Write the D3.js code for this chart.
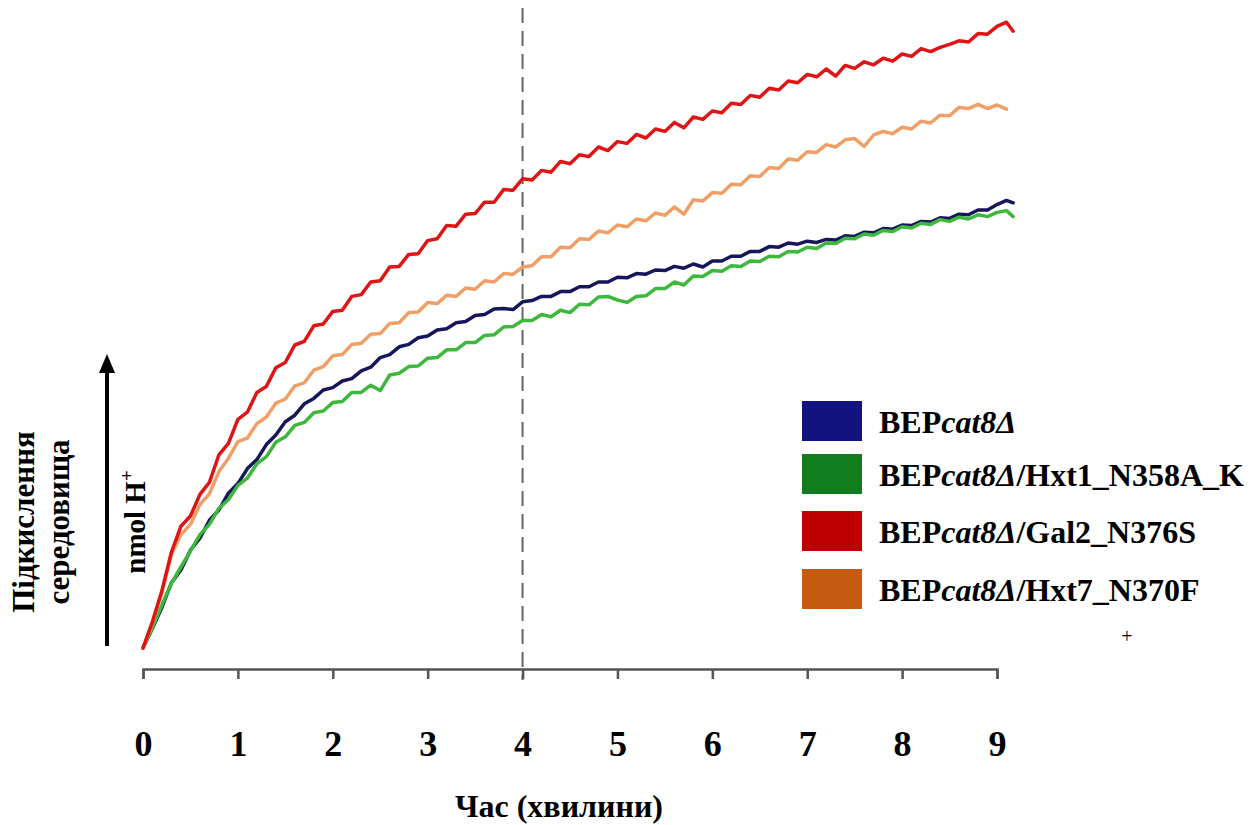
<!DOCTYPE html>
<html>
<head>
<meta charset="utf-8">
<script src="https://cdn.jsdelivr.net/npm/d3@7/dist/d3.min.js"></script>
<style>
  html, body { margin: 0; padding: 0; background: #fff; }
  svg { display: block; }
  text { font-family: "Liberation Serif", "Times New Roman", serif; font-weight: bold; fill: #000; }
</style>
</head>
<body>
<svg id="chart" width="1259" height="825"></svg>
<script>
// Time of measurement, minutes
const times = [0, 0.1, 0.2, 0.3, 0.4, 0.5, 0.6, 0.7, 0.8, 0.9,
  1.0, 1.1, 1.2, 1.3, 1.4, 1.5, 1.6, 1.7, 1.8, 1.9,
  2.0, 2.1, 2.2, 2.3, 2.4, 2.5, 2.6, 2.7, 2.8, 2.9,
  3.0, 3.1, 3.2, 3.3, 3.4, 3.5, 3.6, 3.7, 3.8, 3.9,
  4.0, 4.1, 4.2, 4.3, 4.4, 4.5, 4.6, 4.7, 4.8, 4.9,
  5.0, 5.1, 5.2, 5.3, 5.4, 5.5, 5.6, 5.7, 5.8, 5.9,
  6.0, 6.1, 6.2, 6.3, 6.4, 6.5, 6.6, 6.7, 6.8, 6.9,
  7.0, 7.1, 7.2, 7.3, 7.4, 7.5, 7.6, 7.7, 7.8, 7.9,
  8.0, 8.1, 8.2, 8.3, 8.4, 8.5, 8.6, 8.7, 8.8, 8.9,
  9.0, 9.1, 9.17];

// Medium acidification (nmol H+, relative units)
const bepCat8 = [2.0, 5.3, 8.8, 12.9, 15.0, 18.3, 20.3, 23.3, 25.0, 27.8,
  29.4, 31.9, 33.4, 35.9, 37.5, 39.7, 40.8, 42.7, 43.6, 45.0,
  45.4, 46.5, 46.9, 48.2, 48.8, 50.4, 50.9, 52.2, 52.6, 53.7,
  54.0, 55.0, 55.2, 56.2, 56.4, 57.4, 57.6, 58.5, 58.6, 58.4,
  59.7, 59.9, 60.6, 60.6, 61.4, 61.4, 62.2, 62.2, 63.0, 63.0,
  63.8, 63.7, 64.4, 64.3, 65.0, 64.9, 65.6, 65.3, 66.0, 65.5,
  66.5, 66.5, 67.3, 67.3, 68.1, 68.1, 68.9, 68.8, 69.5, 69.3,
  69.8, 69.6, 70.1, 70.0, 70.7, 70.6, 71.3, 71.2, 71.9, 71.8,
  72.5, 72.4, 73.1, 73.0, 73.7, 73.6, 74.3, 74.2, 75.0, 75.0,
  75.9, 76.6, 76.2];

const hxt1N358AK = [2.0, 5.4, 9.2, 12.8, 15.5, 18.2, 20.9, 22.6, 25.3, 26.7,
  29.1, 30.3, 32.7, 33.9, 36.3, 37.2, 39.1, 39.6, 41.2, 41.5,
  42.9, 43.1, 44.6, 44.6, 45.8, 44.9, 47.5, 47.8, 48.9, 49.0,
  50.3, 50.4, 51.7, 51.7, 52.9, 52.9, 54.1, 54.2, 55.5, 55.6,
  56.6, 56.6, 57.6, 57.2, 58.3, 57.9, 59.3, 59.2, 60.5, 60.6,
  60.0, 59.6, 60.6, 60.7, 61.9, 61.9, 63.0, 62.5, 64.0, 63.9,
  64.9, 64.8, 65.7, 65.6, 66.5, 66.4, 67.3, 67.2, 68.1, 68.0,
  68.8, 68.6, 69.5, 69.4, 70.3, 70.2, 71.0, 70.8, 71.6, 71.4,
  72.2, 72.0, 72.8, 72.6, 73.4, 73.1, 73.8, 73.5, 74.2, 73.9,
  74.6, 74.9, 73.9];

const gal2N376S = [2.0, 6.4, 11.6, 18.0, 22.3, 24.0, 27.6, 29.6, 34.2, 36.1,
  40.1, 41.3, 44.6, 45.6, 48.7, 49.6, 52.5, 53.1, 55.7, 56.0,
  58.1, 58.3, 60.6, 60.9, 63.0, 63.2, 65.5, 65.6, 67.6, 67.7,
  69.9, 70.2, 72.4, 72.3, 74.3, 74.4, 76.3, 76.3, 78.4, 78.3,
  80.2, 80.0, 81.6, 81.3, 83.1, 82.7, 84.2, 83.9, 85.5, 84.9,
  86.4, 86.1, 87.6, 87.0, 88.5, 88.1, 89.6, 88.7, 90.5, 90.1,
  91.5, 91.2, 92.8, 92.6, 94.1, 93.8, 95.3, 95.0, 96.5, 96.2,
  97.6, 97.2, 98.5, 97.3, 99.1, 98.6, 99.7, 99.2, 100.3, 99.8,
  101.0, 100.6, 101.9, 101.4, 102.1, 102.6, 103.2, 103.0, 104.4, 104.3,
  105.6, 106.3, 104.8];

const hxt7N370F = [2.0, 6.2, 11.3, 17.6, 20.9, 22.6, 25.9, 27.7, 31.4, 33.6,
  36.4, 37.0, 39.4, 40.5, 42.8, 43.5, 45.7, 46.2, 48.3, 48.9,
  50.7, 50.9, 52.6, 52.8, 54.3, 54.4, 56.1, 56.2, 57.9, 58.0,
  59.6, 59.4, 60.8, 60.6, 62.0, 61.8, 63.2, 63.0, 64.4, 64.3,
  65.5, 65.7, 67.2, 67.2, 68.8, 68.7, 70.2, 70.1, 71.5, 71.2,
  72.5, 72.2, 73.5, 73.2, 74.5, 74.1, 75.5, 74.3, 76.7, 76.5,
  77.9, 77.8, 79.3, 79.2, 80.7, 80.6, 82.1, 81.9, 83.5, 83.3,
  84.7, 84.6, 85.9, 85.5, 86.7, 86.9, 85.6, 87.5, 88.1, 87.7,
  88.8, 88.5, 89.8, 89.5, 90.8, 90.7, 92.1, 91.9, 92.6, 91.9,
  92.5, 91.8, null];

const seriesNames = ["BEP|cat8Δ|", "BEP|cat8Δ|/Hxt1_N358A_K", "BEP|cat8Δ|/Gal2_N376S", "BEP|cat8Δ|/Hxt7_N370F"];
const seriesValues = [bepCat8, hxt1N358AK, gal2N376S, hxt7N370F];
const lineColors = ["#16165a", "#3cb93c", "#e01414", "#f0a066"];
const legendColors = ["#13137f", "#117d1f", "#c00000", "#c55a11"];

const xTicks = [0, 1, 2, 3, 4, 5, 6, 7, 8, 9];
const markerTime = 4;

const xLabel = "Час (хвилини)";
const yLabelLines = ["Підкислення", "середовища"];
const unitLabel = "nmol H";

const svg = d3.select("#chart");

const x = d3.scaleLinear().domain([0, 9]).range([143, 997]);
const y = d3.scaleLinear().domain([0, 110]).range([660, 0]);
const axisY = 669;

// Vertical dashed marker
svg.append("line")
  .attr("x1", x(markerTime)).attr("x2", x(markerTime))
  .attr("y1", 8).attr("y2", axisY + 11)
  .attr("stroke", "#666").attr("stroke-width", 2)
  .attr("stroke-dasharray", "15,8");

// Time axis
const axis = d3.axisBottom(x)
  .tickValues(xTicks)
  .tickFormat(d3.format("d"))
  .tickSize(10)
  .tickSizeOuter(10);

const gx = svg.append("g")
  .attr("transform", `translate(0,${axisY})`)
  .call(axis);
gx.select(".domain").attr("stroke", "#555").attr("stroke-width", 2.5);
gx.selectAll(".tick line").attr("stroke", "#555").attr("stroke-width", 2.5);
gx.selectAll(".tick text")
  .attr("y", 87).attr("dy", 0)
  .style("font-family", '"Liberation Serif", "Times New Roman", serif')
  .style("font-weight", "bold")
  .style("font-size", "36px")
  .attr("fill", "#000");

// Curves
const line = d3.line()
  .defined(d => d[1] !== null)
  .x(d => x(d[0]))
  .y(d => y(d[1]))
  .curve(d3.curveLinear);

const drawOrder = [0, 1, 3, 2];
drawOrder.forEach(i => {
  const pts = times.map((t, k) => [t, seriesValues[i][k]]);
  svg.append("path")
    .datum(pts)
    .attr("fill", "none")
    .attr("stroke", lineColors[i])
    .attr("stroke-width", 3.5)
    .attr("stroke-linejoin", "round")
    .attr("stroke-linecap", "round")
    .attr("d", line);
});

// Legend
const legend = svg.append("g");
const legendTop = [401, 454, 511, 569];
seriesNames.forEach((name, i) => {
  legend.append("rect")
    .attr("x", 802).attr("y", legendTop[i])
    .attr("width", 60).attr("height", 40)
    .attr("fill", legendColors[i]);
  const parts = name.split("|");
  const t = legend.append("text")
    .attr("x", 879).attr("y", legendTop[i] + 32)
    .style("font-size", "32px");
  parts.forEach((p, j) => {
    if (p.length === 0) return;
    t.append("tspan").text(p).style("font-style", j === 1 ? "italic" : "normal");
  });
});

svg.append("text")
  .attr("x", 1127).attr("y", 643)
  .attr("text-anchor", "middle")
  .style("font-weight", "normal")
  .style("font-size", "20px")
  .text("+");

// X axis title
svg.append("text")
  .attr("x", 559).attr("y", 817)
  .attr("text-anchor", "middle")
  .style("font-size", "32px")
  .text(xLabel);

// Y axis title (two lines)
yLabelLines.forEach((s, i) => {
  svg.append("text")
    .attr("transform", `translate(${34 + i * 35},522) rotate(-90)`)
    .attr("text-anchor", "middle")
    .style("font-size", "31px")
    .text(s);
});

// Unit label with superscript
const unit = svg.append("text")
  .attr("transform", "translate(145,522) rotate(-90)")
  .attr("text-anchor", "middle")
  .style("font-size", "29px");
unit.append("tspan").text(unitLabel);
unit.append("tspan").attr("dy", -12).style("font-size", "19px").text("+");

// Arrow
svg.append("line")
  .attr("x1", 107).attr("x2", 107)
  .attr("y1", 646).attr("y2", 368)
  .attr("stroke", "#000").attr("stroke-width", 4);
svg.append("path")
  .attr("d", d3.line()([[107, 354], [115, 373], [99, 373]]) + "Z")
  .attr("fill", "#000");
</script>
</body>
</html>
